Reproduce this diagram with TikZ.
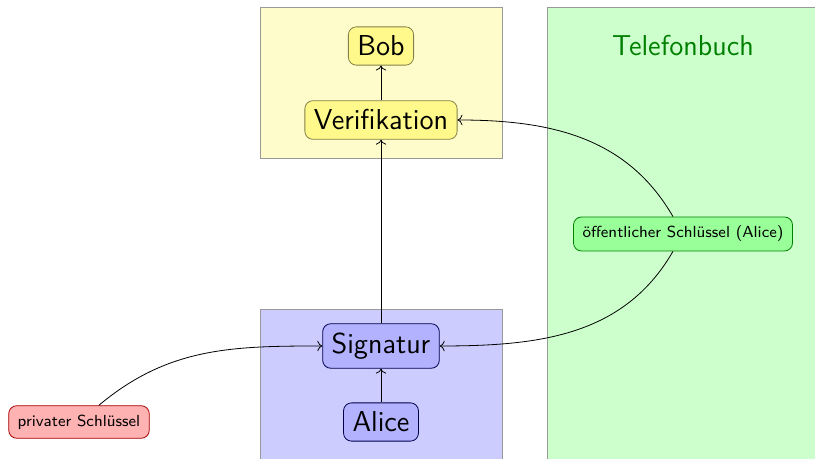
\documentclass[tikz,border=0pt]{standalone}
\usepackage{fontspec}
\usetikzlibrary{positioning,arrows.meta}

\begin{document}
\begin{tikzpicture}[x=0.5pt, y=0.5pt,
  zone/.style={draw=gray!80, line width=0.4pt},
  party/.style={rounded corners=4pt, inner sep=4.5pt, font=\sffamily\Large},
  keybox/.style={rounded corners=4pt, inner sep=4.5pt, font=\sffamily\footnotesize},
  flow/.style={->}]
\useasboundingbox (0,0) rectangle (815,459);
% Bereiche
\filldraw[zone, fill=yellow!20] (260,301) rectangle (502,452);
\filldraw[zone, fill=blue!20] (260,-5) rectangle (502,150);
\filldraw[zone, fill=green!20] (547,-5) rectangle (820,452);
\node[font=\sffamily\Large, text=green!50!black] (book) at (683,413) {Telefonbuch};
% Beteiligte
\node[party, draw=yellow!45!black, fill=yellow!45] (bob) at (381,413) {Bob};
\node[party, draw=yellow!45!black, fill=yellow!45] (verify) at (381,339) {Verifikation};
\node[party, draw=blue!30!black, fill=blue!30] (sign) at (381,113) {Signatur};
\node[party, draw=blue!30!black, fill=blue!30] (alice) at (381,37) {Alice};
% Schluessel
\node[keybox, draw=red!65!black, fill=red!30] (privkey) at (79,37) {privater Schlüssel};
\node[keybox, draw=green!50!black, fill=green!40] (pubkey) at (683,225) {öffentlicher Schlüssel (Alice)};
\draw[flow] (alice) -- (sign);
\draw[flow] (sign) -- (verify);
\draw[flow] (verify) -- (bob);
\draw[flow] (privkey) to[out=40, in=180] (sign);
\draw[flow] (pubkey) to[out=120, in=0] (verify);
\draw[flow] (pubkey) to[out=240, in=0] (sign);
\end{tikzpicture}
\end{document}
